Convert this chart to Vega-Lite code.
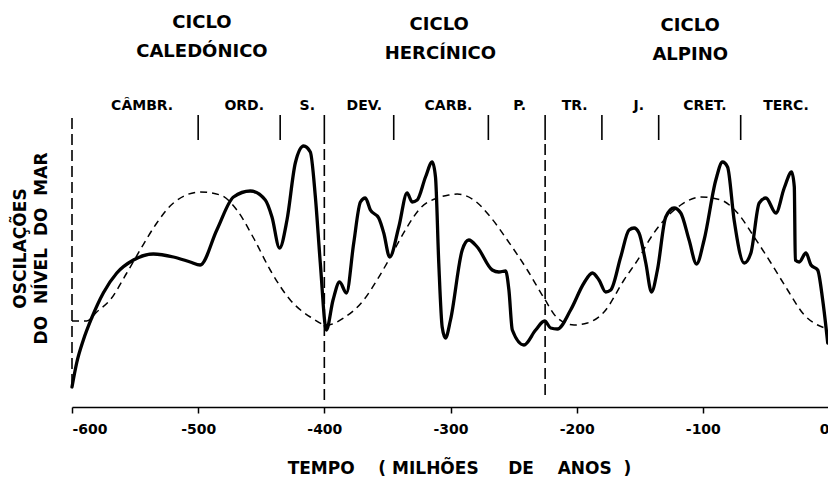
{
  "$schema": "https://vega.github.io/schema/vega-lite/v6.json",
  "width": 757,
  "height": 407,
  "autosize": {"type": "none"},
  "padding": {"left": 72, "top": 0, "right": 0, "bottom": 88},
  "background": "white",
  "config": {"view": {"stroke": null}, "font": "DejaVu Sans"},
  "datasets": {
    "solid": [
      {"x": -600, "y": 20}, {"x": -596.3, "y": 44}, {"x": -591, "y": 67}, {"x": -584.4, "y": 89},
      {"x": -575.2, "y": 114}, {"x": -564.5, "y": 134}, {"x": -551.3, "y": 147}, {"x": -535.5, "y": 153},
      {"x": -519.6, "y": 150}, {"x": -506.3, "y": 145}, {"x": -498.4, "y": 142}, {"x": -485.2, "y": 177},
      {"x": -472, "y": 210}, {"x": -458.7, "y": 216}, {"x": -446.8, "y": 207}, {"x": -441.5, "y": 190},
      {"x": -435.5, "y": 159}, {"x": -429.6, "y": 187}, {"x": -423, "y": 244}, {"x": -416.4, "y": 261},
      {"x": -411.1, "y": 255}, {"x": -407.1, "y": 210}, {"x": -403.2, "y": 144}, {"x": -398.4, "y": 77},
      {"x": -393.1, "y": 107}, {"x": -387.9, "y": 125}, {"x": -382.5, "y": 114}, {"x": -376.7, "y": 164},
      {"x": -371.4, "y": 205}, {"x": -367.5, "y": 209}, {"x": -363.5, "y": 197}, {"x": -356.9, "y": 189},
      {"x": -352.9, "y": 174}, {"x": -348.2, "y": 150}, {"x": -341, "y": 180}, {"x": -334.4, "y": 214},
      {"x": -330.4, "y": 205}, {"x": -326.4, "y": 207}, {"x": -319.8, "y": 230}, {"x": -314.5, "y": 245},
      {"x": -311.9, "y": 230}, {"x": -309.3, "y": 144}, {"x": -306.6, "y": 80}, {"x": -304, "y": 69},
      {"x": -300, "y": 87}, {"x": -290.7, "y": 157}, {"x": -285.5, "y": 167}, {"x": -278.8, "y": 160},
      {"x": -266.9, "y": 137}, {"x": -261.7, "y": 135}, {"x": -256.3, "y": 136}, {"x": -253.7, "y": 117},
      {"x": -251, "y": 77}, {"x": -241.8, "y": 62}, {"x": -232.5, "y": 77}, {"x": -225.4, "y": 86},
      {"x": -220.6, "y": 79}, {"x": -215.3, "y": 78}, {"x": -204.8, "y": 97}, {"x": -194.2, "y": 124},
      {"x": -187.5, "y": 134}, {"x": -182.3, "y": 127}, {"x": -177, "y": 115}, {"x": -173, "y": 117},
      {"x": -165.1, "y": 150}, {"x": -158.5, "y": 177}, {"x": -154.5, "y": 179}, {"x": -150.6, "y": 174},
      {"x": -145.2, "y": 144}, {"x": -140.7, "y": 115}, {"x": -136, "y": 137}, {"x": -129.4, "y": 190},
      {"x": -122.8, "y": 199}, {"x": -117.5, "y": 194}, {"x": -110.9, "y": 167}, {"x": -105, "y": 143},
      {"x": -99, "y": 167}, {"x": -89.7, "y": 227}, {"x": -84.4, "y": 245}, {"x": -80.4, "y": 240},
      {"x": -75.2, "y": 187}, {"x": -67.2, "y": 144}, {"x": -61.9, "y": 154}, {"x": -55.3, "y": 204},
      {"x": -50, "y": 209}, {"x": -42.1, "y": 194}, {"x": -35.5, "y": 219}, {"x": -29.6, "y": 235},
      {"x": -27.5, "y": 220}, {"x": -26.7, "y": 147}, {"x": -23.6, "y": 145}, {"x": -18.3, "y": 154},
      {"x": -14.3, "y": 142}, {"x": -9, "y": 137}, {"x": -5, "y": 107}, {"x": -1, "y": 64}
    ],
    "dashed": [
      {"x": -600, "y": 86}, {"x": -588.3, "y": 86}, {"x": -580.4, "y": 95}, {"x": -569.8, "y": 107},
      {"x": -556.6, "y": 134}, {"x": -546, "y": 157}, {"x": -532.8, "y": 184}, {"x": -519.6, "y": 204},
      {"x": -498.4, "y": 215}, {"x": -482.5, "y": 212}, {"x": -469.3, "y": 197}, {"x": -456.1, "y": 169},
      {"x": -442.9, "y": 137}, {"x": -427, "y": 107}, {"x": -411.1, "y": 90}, {"x": -397.9, "y": 82},
      {"x": -384.7, "y": 89}, {"x": -368.8, "y": 107}, {"x": -358.2, "y": 127}, {"x": -347.6, "y": 150},
      {"x": -334.4, "y": 180}, {"x": -323.8, "y": 199}, {"x": -310.6, "y": 209}, {"x": -301.3, "y": 212},
      {"x": -294.7, "y": 213}, {"x": -281.5, "y": 207}, {"x": -268.3, "y": 190}, {"x": -255, "y": 167},
      {"x": -239.1, "y": 137}, {"x": -225.9, "y": 109}, {"x": -215.3, "y": 89}, {"x": -202.1, "y": 82},
      {"x": -191.5, "y": 84}, {"x": -178.3, "y": 95}, {"x": -162.5, "y": 127}, {"x": -149.2, "y": 152},
      {"x": -143.9, "y": 164}, {"x": -130.7, "y": 187}, {"x": -117.5, "y": 202}, {"x": -101.6, "y": 210},
      {"x": -85.7, "y": 207}, {"x": -72.5, "y": 194}, {"x": -59.3, "y": 170}, {"x": -46, "y": 144},
      {"x": -32.8, "y": 117}, {"x": -19.6, "y": 92}, {"x": -9, "y": 82}, {"x": 0, "y": 78}
    ],
    "boundaries": [
      {"x": -600, "lo": 22, "hi": 294},
      {"x": -400, "lo": 7, "hi": 267},
      {"x": -225, "lo": 12, "hi": 267}
    ],
    "periodTicks": [
      {"x": -500}, {"x": -435}, {"x": -400}, {"x": -345}, {"x": -270},
      {"x": -225}, {"x": -180}, {"x": -135}, {"x": -70}
    ],
    "periods": [
      {"x": -544.4, "y": 297, "label": "CÂMBR."},
      {"x": -463.5, "y": 297, "label": "ORD."},
      {"x": -413.5, "y": 297, "label": "S."},
      {"x": -368.3, "y": 297, "label": "DEV."},
      {"x": -301.6, "y": 297, "label": "CARB."},
      {"x": -245.2, "y": 297, "label": "P."},
      {"x": -201.6, "y": 297, "label": "TR."},
      {"x": -150.8, "y": 297, "label": "J."},
      {"x": -98.4, "y": 297, "label": "CRET."},
      {"x": -34.1, "y": 297, "label": "TERC."}
    ],
    "cycles": [
      {"x": -497, "y": 379, "label": "CICLO"},
      {"x": -497, "y": 350, "label": "CALEDÓNICO"},
      {"x": -309, "y": 377, "label": "CICLO"},
      {"x": -308, "y": 348, "label": "HERCÍNICO"},
      {"x": -110, "y": 376, "label": "CICLO"},
      {"x": -110, "y": 347, "label": "ALPINO"}
    ]
  },
  "layer": [
    {
      "data": {"name": "boundaries"},
      "mark": {"type": "rule", "strokeDash": [11, 5], "strokeWidth": 1.6, "color": "black"},
      "encoding": {
        "x": {
          "field": "x", "type": "quantitative",
          "scale": {"domain": [-600, 0], "nice": false, "zero": false},
          "axis": {
            "values": [-600, -500, -400, -300, -200, -100, 0],
            "labelExpr": "datum.value == 0 ? '0' : '-' + abs(datum.value)",
            "grid": false,
            "domainColor": "black", "domainWidth": 1.5,
            "tickColor": "black", "tickWidth": 1.5, "tickSize": 6,
            "labelFontSize": 14, "labelFontWeight": "bold", "labelColor": "black", "labelPadding": 9,
            "title": "TEMPO \u00a0\u00a0\u00a0( MILHÕES \u00a0\u00a0\u00a0\u00a0DE \u00a0\u00a0\u00a0ANOS \u00a0)",
            "titleFontSize": 17, "titleFontWeight": "bold", "titleColor": "black",
            "titleX": 387, "titleY": 66, "titleBaseline": "alphabetic", "titleAlign": "center"
          }
        },
        "y": {
          "field": "lo", "type": "quantitative",
          "scale": {"domain": [0, 407], "nice": false, "zero": false},
          "axis": {
            "domain": false, "ticks": false, "labels": false, "grid": false,
            "title": ["OSCILAÇÕES", "DO \u00a0NÍVEL \u00a0DO \u00a0MAR"],
            "titleFontSize": 17, "titleFontWeight": "bold", "titleColor": "black",
            "titleLineHeight": 21, "titleX": -52, "titleY": 248, "titleAngle": 270,
            "titleBaseline": "middle", "titleAlign": "center"
          }
        },
        "y2": {"field": "hi"}
      }
    },
    {
      "data": {"name": "periodTicks"},
      "mark": {"type": "rule", "strokeWidth": 1.6, "color": "black"},
      "encoding": {
        "x": {"field": "x", "type": "quantitative", "scale": {"domain": [-600, 0]}},
        "y": {"datum": 267, "type": "quantitative", "scale": {"domain": [0, 407]}},
        "y2": {"datum": 292}
      }
    },
    {
      "data": {"name": "dashed"},
      "mark": {"type": "line", "interpolate": "monotone", "strokeDash": [7, 5], "strokeWidth": 1.5, "color": "black"},
      "encoding": {
        "x": {"field": "x", "type": "quantitative", "scale": {"domain": [-600, 0]}},
        "y": {"field": "y", "type": "quantitative", "scale": {"domain": [0, 407]}}
      }
    },
    {
      "data": {"name": "solid"},
      "mark": {"type": "line", "interpolate": "monotone", "strokeWidth": 3.3, "color": "black", "strokeCap": "round", "strokeJoin": "round"},
      "encoding": {
        "x": {"field": "x", "type": "quantitative", "scale": {"domain": [-600, 0]}},
        "y": {"field": "y", "type": "quantitative", "scale": {"domain": [0, 407]}}
      }
    },
    {
      "data": {"name": "periods"},
      "mark": {"type": "text", "fontSize": 14, "fontWeight": "bold", "color": "black", "align": "center", "baseline": "alphabetic"},
      "encoding": {
        "x": {"field": "x", "type": "quantitative", "scale": {"domain": [-600, 0]}},
        "y": {"field": "y", "type": "quantitative", "scale": {"domain": [0, 407]}},
        "text": {"field": "label"}
      }
    },
    {
      "data": {"name": "cycles"},
      "mark": {"type": "text", "fontSize": 18, "fontWeight": "bold", "color": "black", "align": "center", "baseline": "alphabetic"},
      "encoding": {
        "x": {"field": "x", "type": "quantitative", "scale": {"domain": [-600, 0]}},
        "y": {"field": "y", "type": "quantitative", "scale": {"domain": [0, 407]}},
        "text": {"field": "label"}
      }
    }
  ]
}
